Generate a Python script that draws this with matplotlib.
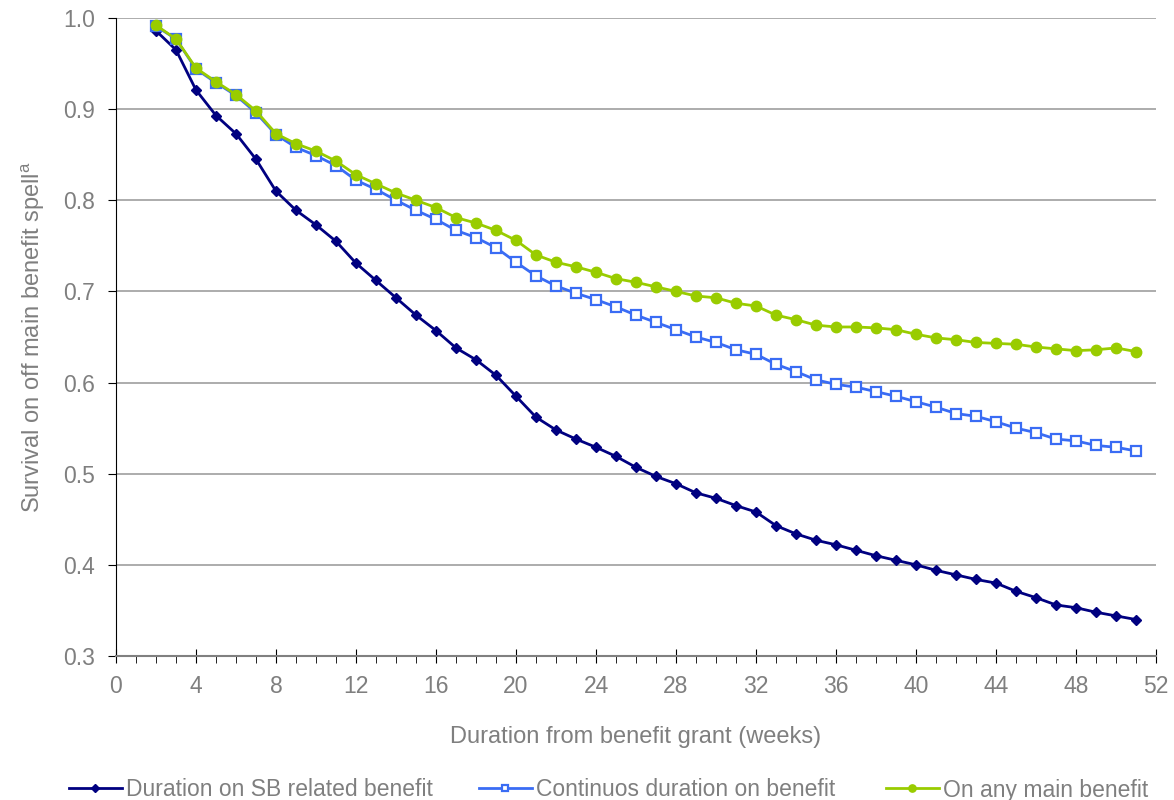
import matplotlib
matplotlib.use("Agg")
import matplotlib.pyplot as plt
from matplotlib.ticker import MultipleLocator

plt.rcParams['font.family'] = ['Liberation Sans', 'DejaVu Sans']
plt.rcParams['mathtext.fontset'] = 'custom'
plt.rcParams['mathtext.rm'] = 'Liberation Sans'

weeks = list(range(2, 52))

sb_related = [0.986, 0.965, 0.921, 0.893, 0.873, 0.845, 0.810, 0.789, 0.773, 0.755,
              0.731, 0.712, 0.693, 0.674, 0.657, 0.638, 0.625, 0.608, 0.585, 0.562,
              0.548, 0.538, 0.529, 0.519, 0.507, 0.497, 0.489, 0.479, 0.473, 0.465,
              0.458, 0.443, 0.434, 0.427, 0.422, 0.416, 0.410, 0.405, 0.400, 0.394,
              0.389, 0.384, 0.380, 0.371, 0.364, 0.356, 0.353, 0.348, 0.344, 0.340]

continuous = [0.991, 0.977, 0.944, 0.929, 0.915, 0.896, 0.872, 0.858, 0.849, 0.838,
              0.822, 0.812, 0.800, 0.789, 0.779, 0.767, 0.759, 0.748, 0.732, 0.717,
              0.706, 0.698, 0.691, 0.683, 0.674, 0.666, 0.658, 0.650, 0.644, 0.636,
              0.631, 0.620, 0.612, 0.603, 0.598, 0.595, 0.590, 0.585, 0.579, 0.573,
              0.566, 0.563, 0.557, 0.550, 0.545, 0.538, 0.536, 0.531, 0.529, 0.525]

any_main = [0.992, 0.977, 0.945, 0.930, 0.916, 0.898, 0.873, 0.862, 0.854, 0.843,
            0.828, 0.818, 0.808, 0.800, 0.792, 0.781, 0.775, 0.767, 0.756, 0.740,
            0.732, 0.727, 0.721, 0.714, 0.710, 0.705, 0.700, 0.695, 0.693, 0.687,
            0.684, 0.674, 0.669, 0.663, 0.661, 0.661, 0.660, 0.658, 0.653, 0.649,
            0.647, 0.644, 0.643, 0.642, 0.639, 0.637, 0.635, 0.636, 0.638, 0.634]

labels = ["Duration on SB related benefit", "Continuos duration on benefit",
          "On any main benefit"]

grey = "#7f7f7f"
fs = 16.5

fig = plt.figure(figsize=(11.74, 8), dpi=100)
ax = fig.add_axes([0.0988, 0.18, 0.8859, 0.7975])

h1, = ax.plot(weeks, sb_related, color="#000080", lw=2, marker="D", ms=5.5, label=labels[0], zorder=3)
h2, = ax.plot(weeks, continuous, color="#3a6cf4", lw=2, marker="s", ms=7, mfc="white",
              mec="#3a6cf4", mew=1.6, label=labels[1], zorder=3)
h3, = ax.plot(weeks, any_main, color="#99cc00", lw=2, marker="o", ms=7.5, label=labels[2], zorder=4)

ax.set_xlim(0, 52)
ax.set_ylim(0.3, 1.0)
ax.xaxis.set_major_locator(MultipleLocator(4))
ax.xaxis.set_minor_locator(MultipleLocator(1))
ax.yaxis.set_major_locator(MultipleLocator(0.1))
ax.yaxis.set_major_formatter(matplotlib.ticker.FormatStrFormatter('%.1f'))

ax.grid(axis='y', color='#a6a6a6', lw=1.3)
ax.set_axisbelow(True)
for s in ['top', 'right']:
    ax.spines[s].set_visible(False)
ax.spines['left'].set_color('black')
ax.spines['bottom'].set_color('#808080')
ax.spines['bottom'].set_linewidth(1.5)

ax.tick_params(axis='x', which='major', direction='inout', length=10, color='black',
               labelsize=fs, labelcolor=grey, pad=9)
ax.tick_params(axis='x', which='minor', direction='out', length=5, color='black')
ax.tick_params(axis='y', which='major', direction='out', length=6, color='black',
               labelsize=fs, labelcolor=grey, pad=9)

ax.set_xlabel("Duration from benefit grant (weeks)", fontsize=17, color=grey, labelpad=20)
ax.set_ylabel("Survival on off main benefit spell$^{\\mathrm{a}}$", fontsize=17, color=grey, labelpad=12)

# excel-style legend: each entry in its own fixed-width slot
for h, lab, xs in zip([h1, h2, h3], labels, [69, 479, 886]):
    fig.legend(handles=[h], labels=[lab], loc='center left',
               bbox_to_anchor=(xs / 1174, 0.0125), borderaxespad=0, borderpad=0,
               frameon=False, fontsize=fs, labelcolor=grey, handlelength=2.3,
               handletextpad=0.2, markerscale=0.7)

fig.savefig("out.png", dpi=100)
